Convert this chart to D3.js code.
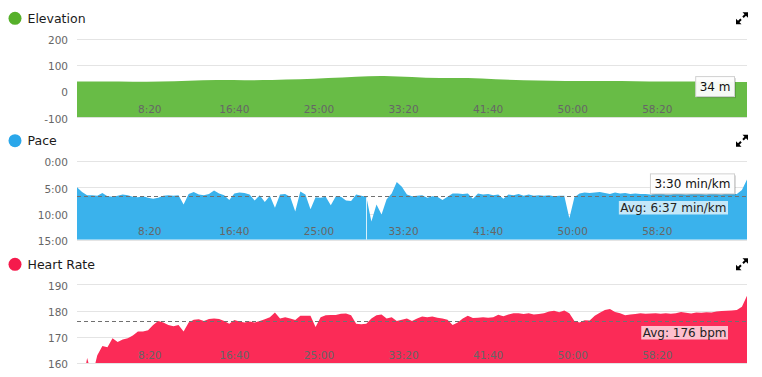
<!DOCTYPE html>
<html>
<head>
<meta charset="utf-8">
<script src="https://cdn.jsdelivr.net/npm/d3@7"></script>
<style>
  body { margin: 0; background: #fff; }
  svg { display: block; font-family: 'DejaVu Sans', sans-serif; }
</style>
</head>
<body>
<script>
// time axis (seconds), samples every STEP seconds from T0
const T0 = 70;
const STEP = 30;
const ELEV_STEP = 165;
const xTicks = [500, 1000, 1500, 2000, 2500, 3000, 3500];
const pauseTime = 1781;

// elevation in metres
const elevValues = [36, 36, 35, 36, 39, 43, 41, 42, 44, 49, 55, 59, 53, 48, 51, 45, 41, 39, 38, 38, 37, 36, 36, 35, 34];
const elevTicks = [-100, 0, 100, 200];

// pace in minutes per km
const paceValues = [
  5.0, 5.9, 6.5, 6.5, 6.6, 6.1, 6.7, 6.8, 6.6, 6.4,
  6.5, 6.8, 6.9, 6.7, 7.0, 7.2, 7.0, 6.6, 6.5, 6.6,
  6.5, 8.3, 6.3, 5.9, 6.4, 6.5, 6.3, 5.6, 6.2, 6.5,
  7.4, 6.2, 6.0, 6.1, 6.4, 7.5, 6.5, 7.8, 6.6, 8.9,
  6.4, 6.3, 6.8, 9.6, 5.8, 6.4, 9.2, 6.9, 7.0, 6.8,
  8.4, 6.7, 6.8, 7.5, 7.6, 6.4, 6.6, 6.8, 11.5, 8.3,
  10.2, 7.3, 6.2, 4.0, 4.9, 6.4, 6.7, 6.6, 6.5, 7.0,
  6.7, 6.8, 7.4, 6.8, 6.2, 6.2, 6.3, 6.2, 7.2, 6.2,
  6.4, 6.3, 6.5, 6.4, 7.2, 6.4, 6.5, 6.3, 6.6, 6.4,
  6.6, 6.5, 6.6, 6.5, 6.7, 6.6, 6.6, 10.9, 6.9, 6.2,
  6.0, 6.1, 6.0, 5.9, 6.1, 6.3, 6.0, 6.2, 6.1, 6.3,
  6.2, 6.3, 6.3, 6.4, 6.3, 6.2, 6.4, 6.4, 6.2, 6.3,
  6.4, 6.3, 6.2, 6.3, 6.4, 6.2, 6.3, 6.4, 6.2, 6.3,
  6.3, 5.5, 3.5,
];
const paceTicks = [0, 5, 10, 15];
const paceAvg = 6 + 37 / 60;

// heart rate in bpm
const hrValues = [
  150, 152, 161.9, 155, 163, 166.5, 166, 169.5, 168, 169,
  169.5, 170.5, 172, 172, 172.5, 174.5, 176, 175.5, 174.5, 174,
  174.5, 172, 175.5, 176.5, 176.7, 176, 176.8, 177, 176.8, 176,
  175, 176.4, 175.8, 175.5, 175.8, 175.5, 176, 176.7, 177.5, 179.3,
  177, 177.5, 177, 176.4, 178, 178, 178, 173.7, 177.5, 178.2,
  178.3, 178.3, 178.8, 178.9, 178.2, 175, 174.8, 175, 177, 178.2,
  178.5, 177, 177.5, 176, 176.5, 177, 176, 177, 177.7, 177.5,
  177.7, 177.3, 177, 176.5, 174.5, 175.5, 177, 178, 177.2, 177.3,
  177.5, 177.3, 177.5, 178.4, 177.8, 178.5, 179, 179, 178.7, 179,
  178.5, 178.7, 179, 179.6, 179.9, 179.4, 180, 179, 176, 175.5,
  176.3, 176.2, 178, 179.2, 180.2, 180.6, 179.5, 179, 178.2, 178.5,
  178.7, 179, 178.8, 178.9, 179, 178.8, 179, 178.8, 179, 179.5,
  179.2, 178.9, 179.3, 179.2, 179.4, 179.3, 179.6, 179.8, 179.9, 180,
  180.2, 181.5, 185.6,
];
const hrTicks = [160, 170, 180, 190];
const hrAvg = 176;

const W = 762, H = 377;
const left = 77, right = 747, plotH = 78.8;

const mmss = (s) => `${Math.floor(s / 60)}:${String(Math.round(s % 60)).padStart(2, '0')}`;

const x = d3.scaleLinear()
  .domain([T0, T0 + STEP * (paceValues.length - 1)])
  .range([left, right]);

const panels = [
  {
    title: 'Elevation', dot: '#56b02a', fill: '#68bc46',
    values: elevValues, step: ELEV_STEP, domain: [-100, 200], invert: false,
    ticks: elevTicks, fmt: (d) => d, top: 38.5, titleY: 18.3,
    tip: `${elevValues[elevValues.length - 1]} m`, curve: d3.curveBasis,
  },
  {
    title: 'Pace', dot: '#2aa7ea', fill: '#3ab2ec',
    values: paceValues, step: STEP, domain: [0, 15], invert: true,
    ticks: paceTicks, fmt: (d) => mmss(d * 60), top: 161, titleY: 140.7,
    tip: `${mmss(paceValues[paceValues.length - 1] * 60)} min/km`,
    avg: paceAvg, avgText: `Avg: ${mmss(paceAvg * 60)} min/km`, pause: pauseTime,
    curve: d3.curveLinear,
  },
  {
    title: 'Heart Rate', dot: '#f51a4c', fill: '#fb2b57',
    values: hrValues, step: STEP, domain: [160, 190], invert: false,
    ticks: hrTicks, fmt: (d) => d, top: 284.3, titleY: 264.3,
    avgText: `Avg: ${hrAvg} bpm`, avg: hrAvg, curve: d3.curveLinear,
  },
];

const svg = d3.select('body').append('svg')
  .attr('width', W)
  .attr('height', H);

panels.forEach((p, k) => {
  const bottom = p.top + plotH;
  const y = d3.scaleLinear()
    .domain(p.domain)
    .range(p.invert ? [p.top, bottom] : [bottom, p.top]);
  const data = p.values.map((v, i) => ({ t: T0 + i * p.step, v }));

  // header
  svg.append('circle')
    .attr('cx', 15).attr('cy', p.titleY).attr('r', 6.5)
    .attr('fill', p.dot);
  svg.append('text')
    .attr('x', 27.5).attr('y', p.titleY)
    .attr('dy', '0.36em')
    .attr('font-size', 12.5)
    .attr('fill', '#1a1a1a')
    .text(p.title);

  // expand icon
  const ic = svg.append('g')
    .attr('transform', `translate(736,${p.titleY - 6})`)
    .attr('fill', '#000').attr('stroke', '#000');
  ic.append('path').attr('d', 'M6.5,0H12V5.5Z').attr('stroke', 'none');
  ic.append('path').attr('d', 'M0,6.5V12H5.5Z').attr('stroke', 'none');
  ic.append('path').attr('d', 'M10.5,1.5L7,5M1.5,10.5L5,7').attr('stroke-width', 2);

  // grid
  svg.append('g')
    .selectAll('line')
    .data(p.ticks)
    .join('line')
    .attr('x1', left).attr('x2', right)
    .attr('y1', (d) => Math.round(y(d)) + 0.5)
    .attr('y2', (d) => Math.round(y(d)) + 0.5)
    .attr('stroke', '#e4e4e4');

  // y tick labels
  svg.append('g')
    .selectAll('text')
    .data(p.ticks)
    .join('text')
    .attr('x', 68)
    .attr('y', (d) => y(d) + 1.5)
    .attr('dy', '0.36em')
    .attr('text-anchor', 'end')
    .attr('font-size', 10.5)
    .attr('fill', '#666')
    .text(p.fmt);

  // clip
  const clipId = `clip${k}`;
  svg.append('clipPath').attr('id', clipId)
    .append('rect')
    .attr('x', left).attr('y', p.top)
    .attr('width', right - left).attr('height', plotH);

  const area = d3.area()
    .x((d) => x(d.t))
    .y0(bottom)
    .y1((d) => y(d.v))
    .curve(p.curve);

  const g = svg.append('g').attr('clip-path', `url(#${clipId})`);
  g.append('path')
    .datum(data)
    .attr('fill', p.fill)
    .attr('d', area);

  if (p.pause) {
    g.append('line')
      .attr('x1', Math.round(x(p.pause)) + 0.5)
      .attr('x2', Math.round(x(p.pause)) + 0.5)
      .attr('y1', y(7)).attr('y2', bottom)
      .attr('stroke', '#fff').attr('stroke-opacity', 0.8);
  }

  // x tick labels
  svg.append('g')
    .selectAll('text')
    .data(xTicks)
    .join('text')
    .attr('x', (d) => x(d))
    .attr('y', bottom - 4.5)
    .attr('text-anchor', 'middle')
    .attr('font-size', 10.5)
    .attr('fill', '#666')
    .text(mmss);

  // average line + label
  if (p.avg !== undefined) {
    const ay = Math.round(y(p.avg)) + 0.5;
    svg.append('line')
      .attr('x1', left).attr('x2', right)
      .attr('y1', ay).attr('y2', ay)
      .attr('stroke', '#707070')
      .attr('stroke-dasharray', '4,3');

    const lab = svg.append('g');
    const txt = lab.append('text')
      .attr('font-size', 12)
      .attr('fill', '#222')
      .text(p.avgText);
    const w = txt.node().getComputedTextLength();
    const bx = 728 - w - 3;
    const by = ay + 4.5;
    lab.insert('rect', 'text')
      .attr('x', bx).attr('y', by)
      .attr('width', w + 3).attr('height', 13.5)
      .attr('fill', '#fff').attr('fill-opacity', 0.7);
    txt.attr('x', bx + 1.5).attr('y', by + 10.5);
  }

  // hover tooltip at last point
  if (p.tip) {
    const last = data[data.length - 1];
    const px = x(last.t), py = y(last.v);
    const tip = svg.append('g');
    const txt = tip.append('text')
      .attr('font-size', 12)
      .attr('fill', '#111')
      .text(p.tip);
    const w = txt.node().getComputedTextLength() + 8;
    const bx = px - 12.5 - w, by = py - 5.5;
    tip.insert('rect', 'text')
      .attr('x', bx + 1.5).attr('y', by + 1.5)
      .attr('width', w).attr('height', 20)
      .attr('fill', '#000').attr('fill-opacity', 0.15);
    tip.insert('rect', 'text')
      .attr('x', bx).attr('y', by)
      .attr('width', w).attr('height', 20)
      .attr('fill', '#fff').attr('fill-opacity', 0.95)
      .attr('stroke', '#d0d0d0');
    txt.attr('x', bx + 4).attr('y', by + 14.5);
  }
});
</script>
</body>
</html>
